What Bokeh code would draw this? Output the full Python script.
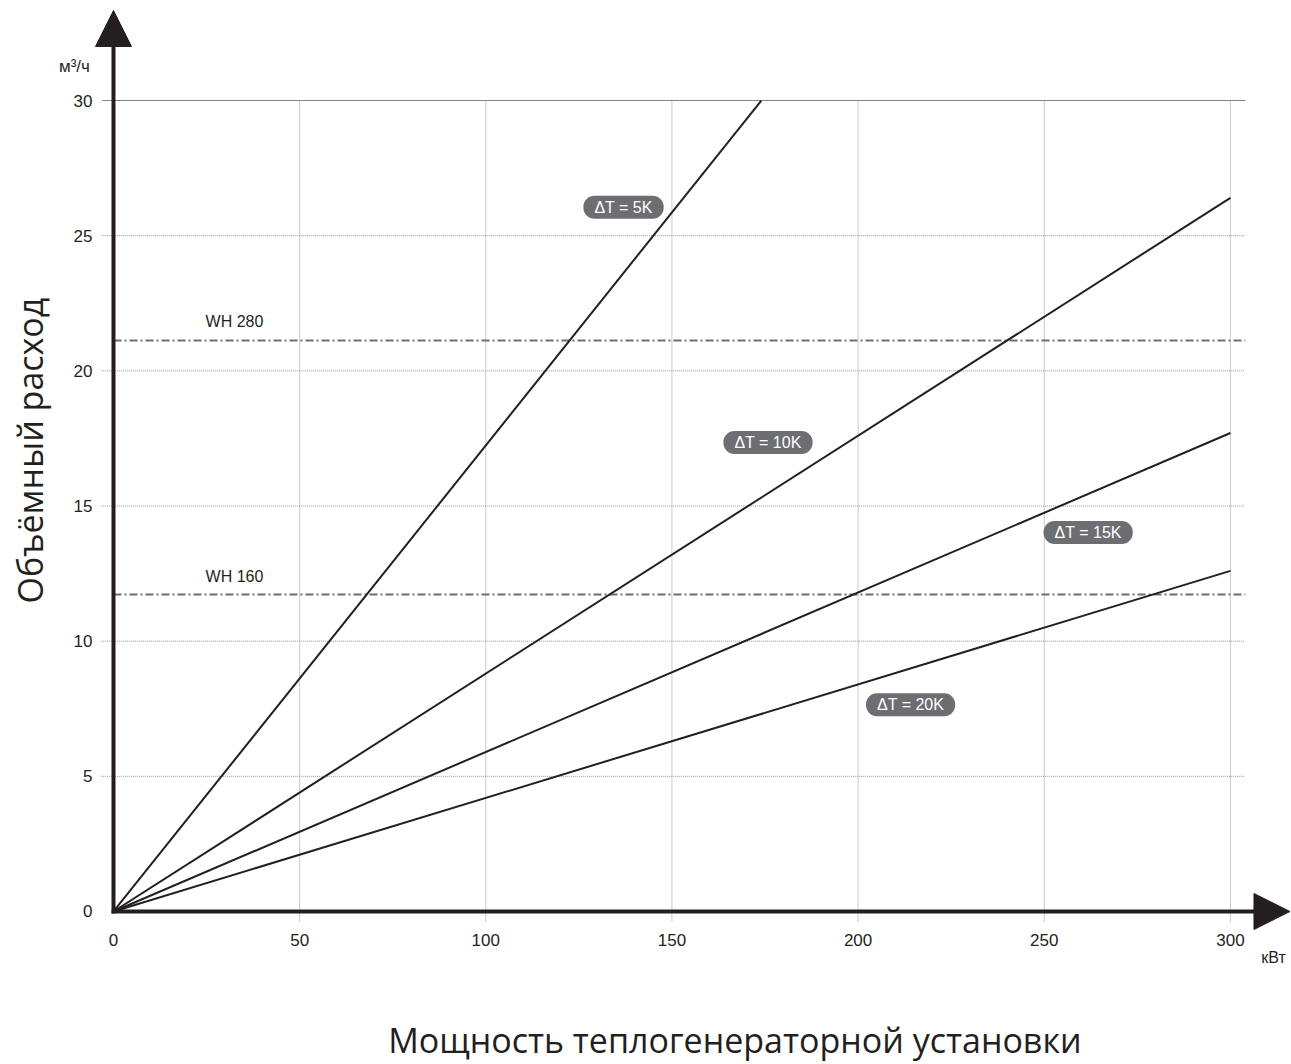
import math
from bokeh.plotting import figure
from bokeh.models import Range1d, Arrow, NormalHead, Label
from bokeh.core.properties import value
from bokeh.embed import file_html
from bokeh.resources import INLINE

# ---------------- data ----------------
power_ticks = [0, 50, 100, 150, 200, 250, 300]          # кВт
flow_ticks = [0, 5, 10, 15, 20, 25, 30]                 # м³/ч
power_tick_labels = [str(t) for t in power_ticks]
flow_tick_labels = [str(t) for t in flow_ticks]

series_labels = ["ΔT = 5K", "ΔT = 10K", "ΔT = 15K", "ΔT = 20K"]
line_start_kw = [0, 0, 0, 0]
line_start_flow = [0, 0, 0, 0]
line_end_kw = [174.0, 300.0, 300.0, 300.0]
line_end_flow = [30.0, 26.4, 17.7, 12.6]
label_kw = [137.0, 175.8, 261.8, 214.1]
label_flow = [26.05, 17.35, 14.02, 7.65]

wh_models = ["WH 280", "WH 160"]
wh_flow = [21.12, 11.73]
wh_label_kw = [32.5, 32.5]
wh_label_flow = [21.83, 12.39]

x_title = "Мощность теплогенераторной установки"
y_title = "Объёмный расход"
x_unit = "кВт"
y_unit = "м³/ч"

INK = "#231f20"
GREY = "#6d6e71"
GRID = "#939598"
FONT = "Liberation Sans"
TFONT = "Open Sans"

p = figure(width=1291, height=1064,
           x_range=Range1d(-30.35, 316.41), y_range=Range1d(-5.66, 33.70),
           x_axis_location=None, y_axis_location=None,
           output_backend="svg", toolbar_location=None,
           min_border=0)
p.min_border_left = 0
p.min_border_right = 0
p.min_border_top = 0
p.min_border_bottom = 0
p.outline_line_color = None
p.xgrid.visible = False
p.ygrid.visible = False

# grid (dotted), derived from tick lists
gx = power_ticks[1:]
p.segment(x0=gx, y0=[-0.37] * len(gx), x1=gx, y1=[flow_ticks[-1]] * len(gx),
          line_color=GRID, line_width=1, line_dash="1 1")
gy = flow_ticks[1:-1]
p.segment(x0=[-3.3] * len(gy), y0=gy, x1=[304.0] * len(gy), y1=gy,
          line_color=GRID, line_width=1, line_dash="1 1")
p.segment(x0=[-3.0], y0=[flow_ticks[-1]], x1=[304.0], y1=[flow_ticks[-1]],
          line_color="#808285", line_width=1.2)

# tick labels
p.text(x=power_ticks, y=[-1.054] * len(power_ticks), text=power_tick_labels,
       text_font=value(FONT), text_font_size="17px", text_color=INK,
       text_align="center", text_baseline="middle")
p.text(x=[-5.64] * len(flow_ticks), y=flow_ticks, text=flow_tick_labels,
       text_font=value(FONT), text_font_size="17px", text_color=INK,
       text_align="right", text_baseline="middle")

# WH limit lines
p.segment(x0=[0] * len(wh_flow), y0=wh_flow, x1=[304.0] * len(wh_flow), y1=wh_flow,
          line_color=GREY, line_width=2, line_dash="8 3 2 3")
p.text(x=wh_label_kw, y=wh_label_flow, text=wh_models,
       text_font=value(FONT), text_font_size="16px", text_color=INK,
       text_align="center", text_baseline="middle")

# ΔT lines
p.segment(x0=line_start_kw, y0=line_start_flow, x1=line_end_kw, y1=line_end_flow,
          line_color=INK, line_width=2)

# pill labels
p.text(x=label_kw, y=label_flow, text=series_labels,
       text_font=value(FONT), text_font_size="16px", text_color="white",
       text_align="center", text_baseline="middle",
       background_fill_color=GREY, border_radius=11, padding=(11, 3))

# axis arrows
p.add_layout(Arrow(end=NormalHead(size=36, fill_color=INK, line_color=INK, line_width=1),
                   x_start=0, y_start=-0.07, x_end=0, y_end=33.33,
                   line_width=4, line_color=INK))
p.add_layout(Arrow(end=NormalHead(size=36, fill_color=INK, line_color=INK, line_width=1),
                   x_start=-0.5, y_start=0, x_end=316.0, y_end=0,
                   line_width=4, line_color=INK))

# titles and units
p.add_layout(Label(x=-22.56, y=17.05, text=y_title, angle=math.pi / 2,
                   text_font=TFONT, text_font_size="34px", text_color=INK,
                   text_align="center", text_baseline="middle"))
p.add_layout(Label(x=166.9, y=-4.77, text=x_title,
                   text_font=TFONT, text_font_size="34px", text_color=INK,
                   text_align="center", text_baseline="middle"))
p.add_layout(Label(x=-10.5, y=31.25, text=y_unit,
                   text_font=FONT, text_font_size="17px", text_color=INK,
                   text_align="center", text_baseline="middle"))
p.add_layout(Label(x=311.6, y=-1.70, text=x_unit,
                   text_font=FONT, text_font_size="16px", text_color=INK,
                   text_align="center", text_baseline="middle"))

open("out.html", "w").write(file_html(p, INLINE))
